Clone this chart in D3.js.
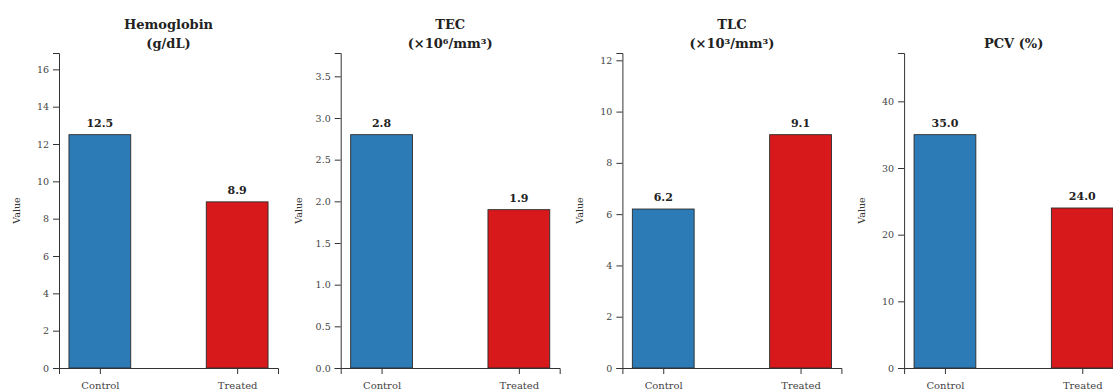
<!DOCTYPE html>
<html>
<head>
<meta charset="utf-8">
<script src="https://cdn.jsdelivr.net/npm/d3@7"></script>
<style>
  html, body { margin: 0; padding: 0; background: #fff; }
  svg { display: block; }
  text { font-family: "DejaVu Serif", serif; }
</style>
</head>
<body>
<svg id="chart" width="1113" height="391"></svg>
<script>
// ---- data ----
const titles = [
  ["Hemoglobin", "(g/dL)"],
  ["TEC", "(×10⁶/mm³)"],
  ["TLC", "(×10³/mm³)"],
  ["PCV (%)"]
];
const categories = ["Control", "Treated"];
const controlValues = [12.5, 2.8, 6.2, 35.0];
const treatedValues = [8.9, 1.9, 9.1, 24.0];
const yTickValues = [
  [0, 2, 4, 6, 8, 10, 12, 14, 16],
  [0, 0.5, 1.0, 1.5, 2.0, 2.5, 3.0, 3.5],
  [0, 2, 4, 6, 8, 10, 12],
  [0, 10, 20, 30, 40]
];
const yTickFormats = ["d", ".1f", "d", "d"];
const yLabel = "Value";
const barColors = ["#2c7bb6", "#d7191c"];

// ---- layout ----
const svg = d3.select("#chart");
const plotTop = 53, plotBottom = 368;
const panelLeft0 = 59, panelStep = 281.7, panelWidth = 219;
const barWidth = 0.45;
const xPad = barWidth / 2 + (1 + barWidth) * 0.05;

titles.forEach((title, i) => {
  const left = panelLeft0 + i * panelStep;
  const vals = [controlValues[i], treatedValues[i]];
  const ymax = Math.max(...vals) * 1.35;

  const x = d3.scaleLinear().domain([-xPad, 1 + xPad]).range([left, left + panelWidth]);
  const y = d3.scaleLinear().domain([0, ymax]).range([plotBottom, plotTop]);

  const g = svg.append("g");

  // bars
  g.selectAll("rect.bar").data(vals).join("rect")
    .attr("class", "bar")
    .attr("x", (d, j) => x(j - barWidth / 2))
    .attr("width", (d, j) => x(j + barWidth / 2) - x(j - barWidth / 2))
    .attr("y", d => y(d))
    .attr("height", d => y(0) - y(d))
    .attr("fill", (d, j) => barColors[j])
    .attr("stroke", "#2b2b2b")
    .attr("stroke-width", 0.9);

  // value labels
  g.selectAll("text.val").data(vals).join("text")
    .attr("class", "val")
    .attr("x", (d, j) => x(j))
    .attr("y", d => y(d) - 8)
    .attr("text-anchor", "middle")
    .attr("font-size", 11)
    .attr("font-weight", "bold")
    .attr("fill", "#222")
    .text(d => d.toFixed(1));

  // y axis
  const yAxis = d3.axisLeft(y).tickValues(yTickValues[i])
    .tickFormat(d3.format(yTickFormats[i])).tickSize(6).tickPadding(4);
  const ya = g.append("g").attr("transform", `translate(${left},0)`).call(yAxis);
  ya.select(".domain").attr("stroke", "#333").attr("stroke-width", 1);
  ya.selectAll(".tick line").attr("stroke", "#333");
  ya.selectAll(".tick text").attr("font-family", "DejaVu Serif").attr("font-size", 9.5).attr("fill", "#444");

  // x axis
  const xAxis = d3.axisBottom(x).tickValues([0, 1])
    .tickFormat(j => categories[j]).tickSize(6).tickPadding(8);
  const xa = g.append("g").attr("transform", `translate(0,${plotBottom})`).call(xAxis);
  xa.select(".domain").attr("stroke", "#333").attr("stroke-width", 1);
  xa.selectAll(".tick line").attr("stroke", "#333");
  xa.selectAll(".tick text").attr("font-family", "DejaVu Serif").attr("font-size", 10).attr("fill", "#444");

  // title
  const t = g.append("text")
    .attr("x", left + panelWidth / 2)
    .attr("text-anchor", "middle")
    .attr("font-size", 13)
    .attr("font-weight", "bold")
    .attr("fill", "#222");
  const n = title.length;
  title.forEach((line, k) => {
    t.append("tspan").attr("x", left + panelWidth / 2)
      .attr("y", 48 - (n - 1 - k) * 19).text(line);
  });

  // y label
  g.append("text")
    .attr("transform", `translate(${left - 39},${(plotTop + plotBottom) / 2}) rotate(-90)`)
    .attr("text-anchor", "middle")
    .attr("font-size", 9.5)
    .attr("fill", "#333")
    .text(yLabel);
});
</script>
</body>
</html>
